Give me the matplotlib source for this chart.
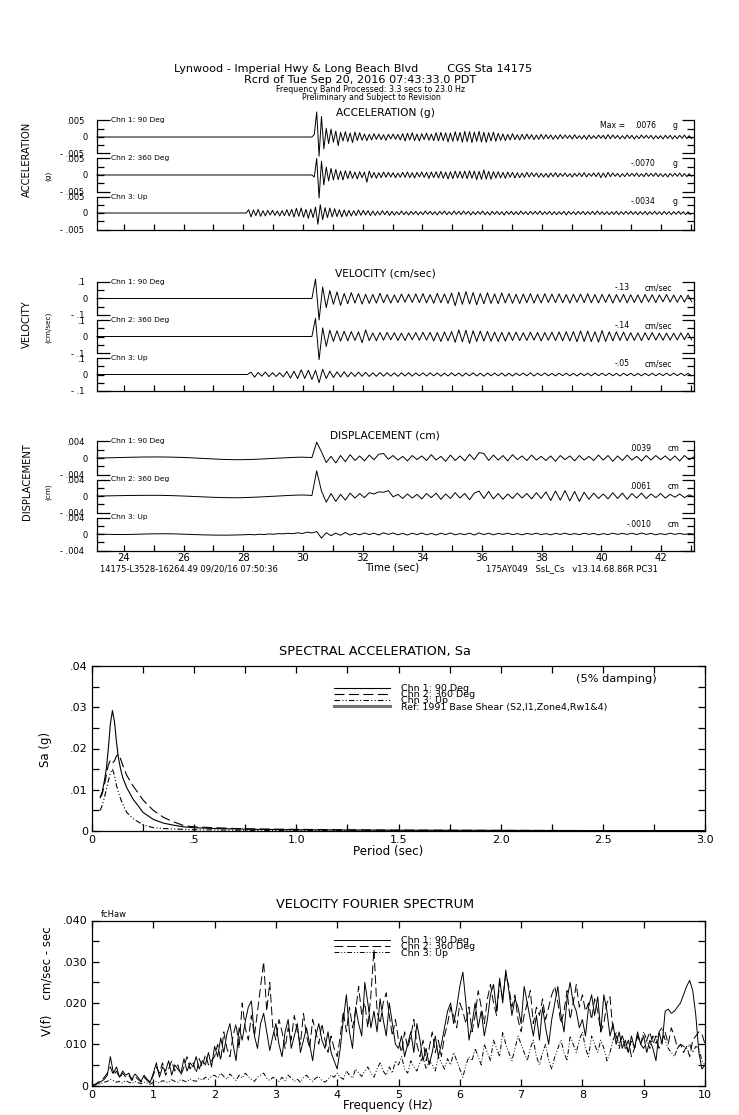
import numpy as np
import matplotlib.pyplot as plt
from matplotlib.lines import Line2D
from matplotlib.ticker import MultipleLocator, FixedLocator, FixedFormatter

plt.rcParams['font.family'] = ['DejaVu Sans']

W, H = 739, 1115
T_START, T_END = 23.1, 43.1

channels = ['Chn 1: 90 Deg', 'Chn 2: 360 Deg', 'Chn 3: Up']

# acceleration, 1e-4 g, every 0.08 s from onset (zero before onset)
acc_dt = 0.08
acc_onset = [30.30, 30.30, 28.10]
acc_ch1 = [0, 8, 76, -58, 62, -36,
           26, -20, 24, -16, 18, -26, 14, -12,
           16, -14, 12, -17, 15, -11, 13, -10, 9,
           -11, 8, -9, 10, -7, 9, -8, 7, -10, 8, -6, 9, -7, 8, -9,
           10, -12, 11, -9, 13, -11, 9, -12, 10, -8, 12, -10, 9, -11, 13,
           -12, 14, -11, 13, -15, 12, -13, 16, -12, 14, -16,
           17, -14, 16, -17, 15, -13, 17, -15, 14, -16, 13, -12, 15, -13,
           11, -10, 9, -11, 8, -9, 10, -8, 7, -9, 8, -7, 9, -6, 7, -8, 6, -7, 8,
           -6, 7, -5, 6, -7, 5, -6, 7, -5, 6, -4, 5, -6, 7, -5, 4, -6, 5, -7, 6, -5, 4,
           -5, 6, -4, 5, -6, 7, -5, 6, -4, 5, -6, 4, -5, 6, -4, 5, -6, 4, -5, 6, -4, 5,
           -4, 5, -6, 4, -5, 4, -6, 5, -4, 5, -6, 4, -5, 5, -4, 6, -5, 4, -5]
acc_ch2 = [0, -6, 50, -70, 42, -30,
           24, -18, 20, -15, 17, -14, 12, -15,
           13, -11, 12, -10, 9, -12, 10, -8, 9,
           -22, 12, -9, 8, -10, 7, -8, 9, -7, 8, -6, 7, -8, 6, -7,
           8, -7, 9, -8, 7, -9, 8, -6, 9, -7, 8, -10, 9, -8, 10,
           -9, 11, -10, 9, -12, 10, -11, 12, -9, 11, -10,
           12, -11, 13, -10, 12, -14, 11, -13, 15, -12, 11, -13, 10, -9,
           10, -9, 8, -10, 9, -7, 8, -9, 7, -8, 6, -7, 8, -6, 7, -5, 6, -7, 5,
           -6, 5, -7, 6, -5, 7, -6, 5, -4, 6, -5, 4, -6, 5, -4, 6, -5, 7, -6, 5, -4, 6,
           -5, 7, -8, 6, -7, 8, -5, 6, -4, 5, -6, 4, -5, 6, -4, 5, -4, 6, -5, 4, -5, 6,
           -4, 5, -4, 6, -5, 4, -5, 4, -6, 5, -4, 5, -4, 6, -5, 4, -5, 4, -4]
acc_ch3 = [0, 10, -12, 9, -8, 11, -10, 7, -9, 8,
           -6, 8, -7, 6, -9, 7, -8, 10, -9, 11,
           -12, 14, -10, 15, -13, 11, -16, 12, -14, 18,
           -34, 25, -20, 16, -14, 15, -12, 13, -11, 10,
           -12, 9, -10, 8, -9, 7, -8, 9, -7, 8,
           -6, 7, -8, 6, -7, 5, -6, 7, -5, 6,
           -7, 5, -6, 4, -5, 6, -5, 4, -6, 5,
           -4, 5, -6, 4, -5, 6, -4, 5, -5, 4,
           -6, 5, -4, 6, -5, 4, -5, 6, -4, 5,
           -5, 6, -4, 5, -6, 4, -5, 5, -4, 6,
           -5, 4, -6, 5, -4, 5, -5, 4, -6, 5,
           -4, 5, -5, 4, -5, 6, -4, 4, -5, 5,
           -4, 5, -4, 6, -5, 4, -4, 5, -5, 4,
           -5, 4, -4, 5, -6, 5, -4, 4, -5, 5,
           -4, 5, -5, 4, -4, 5, -5, 6, -4, 4,
           -5, 4, -5, 4, -4, 5, -5, 4, -4, 5,
           -4, 5, -4, 4, -5, 4, -4, 5, -5, 4,
           -4, 5, -4, 4, -5, 5, -4, 4, -5, 4,
           -4, 5, -4, 4, -5, 4, -4]

# velocity, 1e-3 cm/sec, every 0.12 s from onset
vel_dt = 0.12
vel_onset = [30.30, 30.30, 28.14]
vel_ch1 = [0, 118, -130, 70, -55, 48, -35, 40, -42, 30,
           -32, 36, -28, 30, -34, 26, -30, 25, -28, 32,
           -26, 24, -28, 22, -25, 27, -22, 26, -24, 28,
           -25, 30, -27, 24, -29, 31, -26, 28, -30, 33,
           -44, 38, -35, 42, -33, 36, -38, 30, -32, 35,
           -30, 28, -32, 34, -27, 30, -29, 26, -31, 28,
           -26, 30, -28, 25, -27, 29, -24, 27, -25, 28,
           -26, 24, -28, 26, -23, 27, -25, 29, -26, 24,
           -27, 25, -23, 26, -28, 24, -22, 25, -27, 23,
           -24, 22, -26, 24, -21, 23, -25, 22, -20, 24,
           -22, 21, -23, 20, -22, 21, -19]
vel_ch2 = [0, 110, -140, 52, -60, 38, -30, 35, -28, 32,
           -26, 30, -24, 28, -38, 40, -25, 22, -26, 24,
           -22, 25, -20, 23, -24, 21, -25, 22, -20, 24,
           -23, 26, -22, 25, -27, 24, -30, 28, -26, 30,
           -35, 40, -32, 38, -42, 35, -30, 33, -28, 31,
           -29, 27, -30, 25, -28, 26, -24, 27, -25, 23,
           -24, 26, -22, 25, -27, 24, -23, 26, -25, 28,
           -26, 29, -27, 30, -32, 34, -30, 33, -31, 29,
           -34, 36, -30, 28, -26, 29, -24, 27, -25, 23,
           -24, 22, -25, 23, -21, 24, -22, 20, -23, 21,
           -22, 20, -21, 22, -19, 21, -20]
vel_ch3 = [0, 14, -16, 12, -10, 15, -13, 11, -12, 10,
           -14, 18, -22, 20, -25, 28, -24, 26, -30, 25,
           -50, 32, -24, 20, -18, 16, -15, 17, -14, 13,
           -12, 14, -11, 13, -12, 10, -11, 12, -10, 11,
           -10, 9, -11, 10, -9, 11, -10, 9, -8, 10,
           -9, 10, -8, 9, -10, 8, -9, 10, -8, 9,
           -10, 9, -8, 10, -9, 8, -10, 9, -8, 9,
           -8, 9, -10, 8, -9, 8, -7, 9, -8, 10,
           -9, 8, -7, 9, -8, 7, -9, 8, -7, 8,
           -8, 7, -9, 8, -7, 8, -8, 9, -7, 8,
           -7, 8, -8, 7, -9, 8, -7, 8, -8, 7,
           -8, 7, -7, 8, -8, 7, -7, 8, -7, 8,
           -7, 8, -7, 7, -8]

# displacement, 1e-5 cm, every 0.16 s from 23.10
dis_dt = 0.16
dis_onset = [23.10, 23.10, 23.10]
dis_ch1 = [0, 2, 4, 6, 9, 12, 15, 18, 20, 22,
           24, 25, 26, 25, 24, 22, 20, 17, 13, 8,
           3, -3, -9, -15, -21, -27, -32, -36, -39, -41,
           -41, -39, -36, -32, -27, -21, -15, -9, -3, 2,
           8, 14, 18, 20, 16, 10,
           385, 150, -110, 40,
           -120, 60, -90, 80, -60, 50, -70, 70, -40, 90,
           110, -30, 60, -50, 40, -70, 60, -40, 50, -60,
           80, -50, 40, -80, 70, -60, 50, -70, 90, -40,
           130, 110, -60, 70, -50, 60, -70, 80, -40, 50,
           -60, 70, -50, 40, -60, 50, -80, 60, -40, 50,
           -70, 60, -50, 40, -60, 70, -50, 60, -80, 50,
           -60, 70, -50, 40, -70, 60, -50, 60, -40, 50,
           -60, 50, -70, 60, -40, 30]
dis_ch2 = [0, 1, 3, 5, 7, 9, 11, 13, 14, 15,
           16, 17, 17, 16, 14, 11, 8, 4, 0, -5,
           -10, -15, -20, -25, -30, -34, -38, -40, -42, -42,
           -41, -38, -34, -29, -24, -18, -12, -6, 0, 6,
           12, 18, 22, 24, 20, 12,
           610, 120, -150, 60,
           -130, 40, -100, 70, -50, 60, -40, 80, 50, 100,
           90, 130, -20, 40, -60, 50, -50, 40, -70, 60,
           -40, 70, -80, 50, -60, 80, -50, 60, -90, 70,
           120, -60, 110, -70, 60, -80, 50, -60, 70, -50,
           60, -70, 80, -60, 100, -110, 120, -100, 130, -120,
           110, -130, 90, -80, 70, -60, 50, -70, 80, -60,
           70, -80, 60, -50, 70, -60, 50, -40, 60, -50,
           40, -30, 50, -40, 30, -20]
dis_ch3 = [-5, -6, -8, -10, -12, -13, -12, -10, -7, -4,
           -1, 2, 4, 5, 6, 5, 3, 0, -4, -8,
           -12, -16, -20, -23, -25, -27, -28, -28, -26, -24,
           -21, -18, -10, -20, -5, -14, 2, -6, 10, 4,
           18, 8, 30, 12, 45, 25,
           60, -100, 30, -40,
           20, -30, 35, -25, 15, -20, 25, -15, 20, -25,
           30, -10, 25, -20, 15, -25, 20, -15, 25, -20,
           15, -25, 20, -15, 25, -20, 10, -15, 20, -25,
           25, -15, 20, -20, 15, -10, 20, -15, 10, -20,
           15, -10, 20, -15, 10, -20, 15, -10, 20, -15,
           10, -15, 20, -10, 15, -20, 10, -15, 20, -10,
           15, -10, 20, -15, 25, -10, 15, -20, 10, -15,
           20, -10, 15, -10, 10, -5]

acc_peak = ['.0076', '-.0070', '-.0034']
vel_peak = ['-.13', '-.14', '-.05']
dis_peak = ['.0039', '.0061', '-.0010']

# spectral acceleration, 1e-4 g
sa_period = [0.04, 0.05, 0.06, 0.07, 0.08, 0.09, 0.10, 0.11, 0.12, 0.13, 0.14, 0.15,
             0.17, 0.20, 0.25, 0.30, 0.35, 0.40, 0.45, 0.50, 0.60, 0.70, 0.80,
             1.0, 1.2, 1.5, 2.0, 2.5, 3.0]
sa_ch1 = [82, 95, 120, 150, 200, 260, 292, 265, 215, 175, 150, 130,
          105, 78, 45, 28, 19, 14, 10, 8, 6, 5, 4, 3, 2.5, 2, 1.5, 1, 1]
sa_ch2 = [80, 90, 110, 135, 160, 172, 165, 170, 182, 186, 175, 160,
          135, 110, 75, 50, 33, 22, 13, 10, 8, 6, 5, 4, 3, 2, 1.5, 1, 1]
sa_ch3 = [50, 62, 80, 100, 122, 140, 150, 135, 110, 92, 78, 65,
          45, 30, 15, 8, 6, 5, 4, 3, 2.5, 2, 1.5, 1, 1, 1, 0.5, 0.5, 0.5]

# velocity Fourier amplitude, 1e-4 cm/sec-sec, every 0.05 Hz
fas_df = 0.05
fas_ch1 = [0, 2, 5, 10, 15, 25, 70, 30, 45, 20, 35, 25, 30, 15, 28, 20, 10, 25, 15, 8,
           30, 55, 20, 45, 35, 60, 25, 50, 40, 30, 65, 35, 55, 45, 70, 40, 60, 50, 80, 45,
           95, 70, 115, 80, 125, 150, 100, 60, 140, 110, 155, 190, 205, 120, 90, 150, 175, 130, 85, 120,
           150, 100, 70, 130, 160, 90, 120, 150, 80, 110, 140, 100, 60, 120, 150, 110, 90, 130, 80, 60,
           40, 90, 160, 220, 130, 90, 190, 150, 120, 250, 200, 140, 180, 130, 210, 160, 120, 200, 150, 100,
           90, 120, 70, 100, 130, 80, 150, 110, 60, 90, 50, 80, 120, 70, 100, 140, 180, 200, 150, 190,
           240, 275, 200, 110, 150, 200, 140, 180, 120, 160, 220, 245, 180, 260, 200, 280, 230, 170, 210, 190,
           150, 240, 200, 160, 120, 170, 110, 190, 140, 100, 160, 200, 240, 170, 130, 210, 250, 200, 180, 140,
           160, 120, 190, 220, 170, 215, 130, 220, 180, 120, 150, 100, 130, 90, 110, 80, 120, 90, 130, 100,
           120, 80, 110, 90, 60, 130, 100, 180, 185, 175, 180, 190, 200, 220, 240, 255, 230, 170, 80, 40,
           50]
fas_ch2 = [0, 3, 8, 12, 20, 30, 45, 25, 35, 18, 30, 20, 25, 12, 22, 15, 8, 20, 12, 6,
           25, 45, 30, 55, 25, 40, 60, 35, 50, 25, 45, 70, 40, 55, 30, 65, 45, 75, 50, 60,
           70, 100, 60, 130, 90, 70, 120, 150, 90, 200, 140, 110, 170, 120, 180, 240, 300, 180, 250, 140,
           110, 160, 130, 90, 140, 110, 170, 130, 100, 175, 120, 90, 160, 130, 100, 150, 110, 80, 120, 90,
           70, 120, 180, 130, 190, 140, 180, 240, 170, 200, 140, 220, 330, 180, 150, 200, 225, 170, 120, 160,
           110, 80, 130, 90, 120, 160, 100, 70, 110, 60, 90, 130, 80, 110, 70, 120, 150, 190, 170, 140,
           200, 180, 150, 190, 130, 170, 230, 190, 150, 210, 245, 200, 170, 250, 210, 270, 240, 190, 220, 160,
           130, 170, 200, 230, 150, 190, 170, 210, 160, 190, 220, 240, 200, 150, 180, 230, 160, 200, 245, 190,
           220, 180, 200, 160, 210, 180, 130, 150, 200, 215, 130, 120, 100, 120, 90, 110, 70, 90, 120, 100,
           90, 110, 130, 100, 120, 90, 110, 130, 100, 140, 120, 90, 100, 80, 95, 70, 110, 120, 130, 125,
           100]
fas_ch3 = [0, 1, 3, 5, 8, 10, 15, 12, 8, 10, 6, 12, 8, 5, 10, 7, 4, 8, 6, 3,
           8, 10, 6, 12, 9, 7, 14, 10, 8, 15, 11, 9, 16, 12, 10, 18, 13, 20, 15, 22,
           25, 18, 30, 22, 15, 28, 20, 12, 25, 18, 30, 22, 15, 10, 20, 25, 30, 18, 12, 20,
           15, 10, 20, 12, 25, 18, 10, 15, 8, 20, 25, 15, 10, 18, 22, 12, 8, 15, 25, 20,
           30, 20, 15, 35, 25, 18, 40, 30, 22, 35, 45, 30, 20, 40, 55, 35, 25, 45, 30, 60,
           50, 70, 40, 30, 60, 45, 35, 55, 70, 40, 60, 50, 35, 70, 55, 40, 65, 50, 80, 60,
           40, 20, 50, 70, 60, 90, 70, 50, 100, 80, 60, 110, 90, 70, 130, 100, 80, 60, 90, 120,
           100, 80, 60, 90, 110, 70, 50, 80, 100, 60, 40, 70, 90, 110, 80, 60, 120, 100, 80, 110,
           130, 90, 70, 120, 100, 80, 110, 90, 60, 80, 110, 130, 90, 120, 100, 80, 110, 90, 120, 100,
           130, 110, 90, 120, 100, 130, 140, 110, 90, 80, 70, 90, 100, 95, 90, 100, 80, 95, 90, 60,
           50]

fig = plt.figure(figsize=(W / 100, H / 100), dpi=100)


def px_axes(left, top, right, bottom):
    return fig.add_axes([left / W, 1 - bottom / H, (right - left) / W, (bottom - top) / H])


def px_text(x, y, s, **kw):
    kw.setdefault('ha', 'center')
    kw.setdefault('va', 'center')
    fig.text(x / W, 1 - y / H, s, **kw)


def box_style(ax):
    for sp in ax.spines.values():
        sp.set_linewidth(0.9)
    ax.tick_params(which='both', direction='in', length=5, width=0.9, top=True, right=True,
                   labelsize=8, pad=3)


# header
px_text(353, 69.5, 'Lynwood - Imperial Hwy & Long Beach Blvd        CGS Sta 14175', fontsize=8.1)
px_text(360, 80, 'Rcrd of Tue Sep 20, 2016 07:43:33.0 PDT', fontsize=8.1)
px_text(371, 89.5, 'Frequency Band Processed: 3.3 secs to 23.0 Hz', fontsize=5.8)
px_text(371, 98, 'Preliminary and Subject to Revision', fontsize=5.6)

groups = [
    dict(title='ACCELERATION (g)', title_y=113, name='ACCELERATION', unit_lbl='(g)',
         name_y=159, unit_y=176, top=120.5, lim=0.005, scale=1e-4,
         ticks=['- .005', '.005'], data=[acc_ch1, acc_ch2, acc_ch3], onset=acc_onset,
         dt=acc_dt, peaks=acc_peak, unit='g', vx=0.936, ux=0.965, ty=0.86),
    dict(title='VELOCITY (cm/sec)', title_y=273, name='VELOCITY', unit_lbl='(cm/sec)',
         name_y=324, unit_y=327, top=282, lim=0.1, scale=1e-3,
         ticks=['- .1', '.1'], data=[vel_ch1, vel_ch2, vel_ch3], onset=vel_onset,
         dt=vel_dt, peaks=vel_peak, unit='cm/sec', vx=0.893, ux=0.918, ty=0.83),
    dict(title='DISPLACEMENT (cm)', title_y=435, name='DISPLACEMENT', unit_lbl='(cm)',
         name_y=482, unit_y=492, top=441.5, lim=0.004, scale=1e-5,
         ticks=['- .004', '.004'], data=[dis_ch1, dis_ch2, dis_ch3], onset=dis_onset,
         dt=dis_dt, peaks=dis_peak, unit='cm', vx=0.928, ux=0.956, ty=0.80),
]

for gi, g in enumerate(groups):
    px_text(385, g['title_y'], g['title'], fontsize=7.7)
    px_text(27, g['name_y'], g['name'], fontsize=7.2, rotation=90)
    px_text(48, g['unit_y'], g['unit_lbl'], fontsize=5.2, rotation=90)
    lim = g['lim']
    for i in range(3):
        top = g['top'] + 38 * i
        ax = px_axes(97, top, 694, top + 33)
        ax.patch.set_visible(False)
        vals = np.array(g['data'][i]) * g['scale']
        t = g['onset'][i] + g['dt'] * np.arange(len(vals))
        if g['onset'][i] > T_START:
            t = np.concatenate([[T_START], t])
            vals = np.concatenate([[0.0], vals])
        ax.plot(t, vals, color='black', lw=0.7, clip_on=False)
        ax.set_xlim(T_START, T_END)
        ax.set_ylim(-lim, lim)
        last = i == 2
        ax.spines['top'].set_visible(False)
        ax.spines['bottom'].set_visible(last)
        for sp in ax.spines.values():
            sp.set_linewidth(0.9)
        ax.yaxis.set_major_locator(FixedLocator([-lim, lim]))
        ax.yaxis.set_major_formatter(FixedFormatter(g['ticks']))
        ax.yaxis.set_minor_locator(FixedLocator([-lim / 2, 0, lim / 2]))
        ax.yaxis.set_minor_formatter(FixedFormatter(['', '0', '']))
        ax.tick_params(axis='y', which='major', direction='in', length=9, width=0.9,
                       left=True, right=True, labelsize=6, pad=9)
        ax.tick_params(axis='y', which='minor', direction='in', length=5, width=0.9,
                       left=True, right=True, labelsize=6, pad=6.5)
        if last:
            ax.xaxis.set_major_locator(MultipleLocator(2))
            ax.xaxis.set_minor_locator(MultipleLocator(1))
            ax.tick_params(axis='x', which='both', direction='in', length=4, width=0.9,
                           top=False, labelbottom=(gi == 2), labelsize=7.3, pad=2)
        else:
            ax.set_xticks([])
        ax.text(0.0235, 1.0, channels[i], transform=ax.transAxes, fontsize=5.4,
                ha='left', va='center')
        ax.text(g['vx'], g['ty'], g['peaks'][i], transform=ax.transAxes, fontsize=5.6,
                ha='right', va='center')
        ax.text(g['ux'], g['ty'], g['unit'], transform=ax.transAxes, fontsize=5.6,
                ha='left', va='center')
        if gi == 0 and i == 0:
            ax.text(0.843, g['ty'], 'Max =', transform=ax.transAxes, fontsize=5.6,
                    ha='left', va='center')

px_text(392, 567, 'Time (sec)', fontsize=7.5)
px_text(100, 569, '14175-L3528-16264.49 09/20/16 07:50:36', fontsize=6, ha='left')
px_text(486, 569, '175AY049   SsL_Cs   v13.14.68.86R PC31', fontsize=6, ha='left')

# spectral acceleration
ax = px_axes(92, 666, 705, 831)
ax.plot(sa_period, np.array(sa_ch1) * 1e-4, color='black', lw=0.8, label=channels[0])
ax.plot(sa_period, np.array(sa_ch2) * 1e-4, color='black', lw=0.8, dashes=(9, 4),
        label=channels[1])
ax.plot(sa_period, np.array(sa_ch3) * 1e-4, color='black', lw=0.8, dashes=(5, 2, 1, 2, 1, 2),
        label=channels[2])
ref = Line2D([], [], color='0.45', lw=2.2, label='Ref: 1991 Base Shear (S2,I1,Zone4,Rw1&4)')
handles = ax.get_legend_handles_labels()[0] + [ref]
ax.legend(handles=handles, loc='upper left', bbox_to_anchor=(0.394, 0.89), frameon=False,
          fontsize=6.8, handlelength=6, handletextpad=1.1, labelspacing=-0.3,
          borderpad=0, borderaxespad=0)
ax.set_xlim(0, 3.0)
ax.set_ylim(0, 0.04)
ax.xaxis.set_major_locator(FixedLocator([0, 0.5, 1.0, 1.5, 2.0, 2.5, 3.0]))
ax.xaxis.set_major_formatter(FixedFormatter(['0', '.5', '1.0', '1.5', '2.0', '2.5', '3.0']))
ax.xaxis.set_minor_locator(MultipleLocator(0.25))
ax.yaxis.set_major_locator(FixedLocator([0, 0.01, 0.02, 0.03, 0.04]))
ax.yaxis.set_major_formatter(FixedFormatter(['0', '.01', '.02', '.03', '.04']))
ax.yaxis.set_minor_locator(MultipleLocator(0.005))
box_style(ax)
ax.text(0.856, 0.92, '(5% damping)', transform=ax.transAxes, fontsize=8.2,
        ha='center', va='center')
px_text(375, 652, 'SPECTRAL ACCELERATION, Sa', fontsize=9.3)
px_text(388, 851, 'Period (sec)', fontsize=8.6)
px_text(46, 749, 'Sa (g)', fontsize=8.5, rotation=90)

# velocity Fourier spectrum
fas_freq = fas_df * np.arange(len(fas_ch1))
ax = px_axes(92, 920.5, 705, 1085.5)
ax.plot(fas_freq, np.array(fas_ch1) * 1e-4, color='black', lw=0.7, label=channels[0])
ax.plot(fas_freq, np.array(fas_ch2) * 1e-4, color='black', lw=0.7, dashes=(9, 4),
        label=channels[1])
ax.plot(fas_freq, np.array(fas_ch3) * 1e-4, color='black', lw=0.7, dashes=(5, 2, 1, 2, 1, 2),
        label=channels[2])
ax.legend(loc='upper left', bbox_to_anchor=(0.394, 0.905), frameon=False,
          fontsize=6.8, handlelength=6, handletextpad=1.1, labelspacing=-0.3,
          borderpad=0, borderaxespad=0)
ax.set_xlim(0, 10)
ax.set_ylim(0, 0.04)
ax.xaxis.set_major_locator(MultipleLocator(1))
ax.yaxis.set_major_locator(FixedLocator([0, 0.01, 0.02, 0.03, 0.04]))
ax.yaxis.set_major_formatter(FixedFormatter(['0', '.010', '.020', '.030', '.040']))
ax.yaxis.set_minor_locator(MultipleLocator(0.005))
box_style(ax)
ax.text(0.015, 1.035, 'fcHaw', transform=ax.transAxes, fontsize=6, ha='left', va='center')
px_text(375, 904, 'VELOCITY FOURIER SPECTRUM', fontsize=9.3)
px_text(388, 1106, 'Frequency (Hz)', fontsize=8.6)
px_text(47, 981, 'V(f)    cm/sec - sec', fontsize=8.5, rotation=90)

fig.savefig('out.png', dpi=100)
